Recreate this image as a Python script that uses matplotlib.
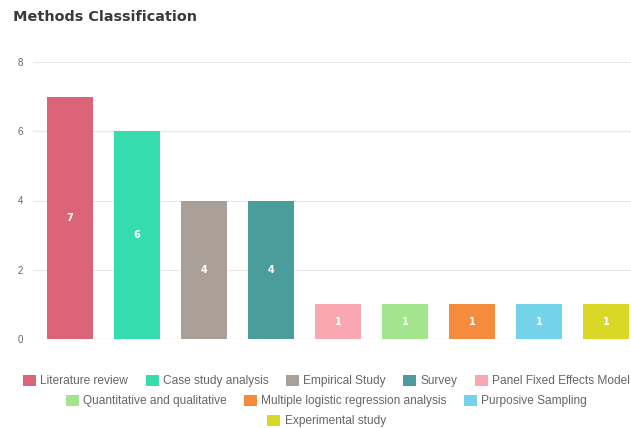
import matplotlib
matplotlib.use("Agg")
import matplotlib.pyplot as plt
from matplotlib.patches import Patch

categories = ["Literature review", "Case study analysis", "Empirical Study", "Survey",
              "Panel Fixed Effects Model", "Quantitative and qualitative",
              "Multiple logistic regression analysis", "Purposive Sampling",
              "Experimental study"]
values = [7, 6, 4, 4, 1, 1, 1, 1, 1]
colors = ["#dc6479", "#36dcae", "#aba097", "#4a9d9a", "#f9a7b0",
          "#a2e58c", "#f58b3c", "#74d3e8", "#dad826"]
yticks = [0, 2, 4, 6, 8]

W, H = 631, 428
fig = plt.figure(figsize=(W/100, H/100), dpi=100)
ax = fig.add_axes([33/W, 1-339/H, (631-33)/W, (339-62)/H])

x = list(range(len(categories)))
bars = ax.bar(x, values, width=46/67, color=colors, zorder=2)
for xi, v in zip(x, values):
    ax.text(xi, v/2, str(v), color="white", ha="center", va="center",
            fontsize=7, fontweight="bold", zorder=3)

ax.set_xlim(-0.5-(36.5-33)/67, (631-70)/67)
ax.set_ylim(0, 8)
ax.set_yticks(yticks)
ax.set_yticklabels([str(t) for t in yticks], color="#666666", fontsize=7,
                   family="Liberation Sans")
ax.tick_params(axis="y", length=0, pad=7)
ax.set_xticks([])
ax.grid(axis="y", color="#e8e8e8", linewidth=0.8, zorder=0)
for s in ax.spines.values():
    s.set_visible(False)
ax.axhline(0, color="#e0e0e0", linewidth=0.8, zorder=1)

fig.text(13/W, 1-17/H, "Methods Classification", fontsize=10.4, fontweight="bold",
         color="#3a3a3a", va="center", ha="left")

rows = [[0, 1, 2, 3, 4], [5, 6, 7], [8]]
row_y = [381, 401, 421]
for r, yy in zip(rows, row_y):
    handles = [Patch(facecolor=colors[i], edgecolor="none") for i in r]
    labels = [categories[i] for i in r]
    leg = fig.legend(handles, labels, loc="center", bbox_to_anchor=(0.5 + 11/W, 1-yy/H),
                     ncol=len(r), frameon=False,
                     prop={"family": "Liberation Sans", "size": 8.6},
                     handlelength=1.1, handleheight=1.1, handletextpad=0.35,
                     columnspacing=1.45, borderaxespad=0, borderpad=0)
    for t in leg.get_texts():
        t.set_color("#666666")

fig.savefig("out.png", dpi=100)
